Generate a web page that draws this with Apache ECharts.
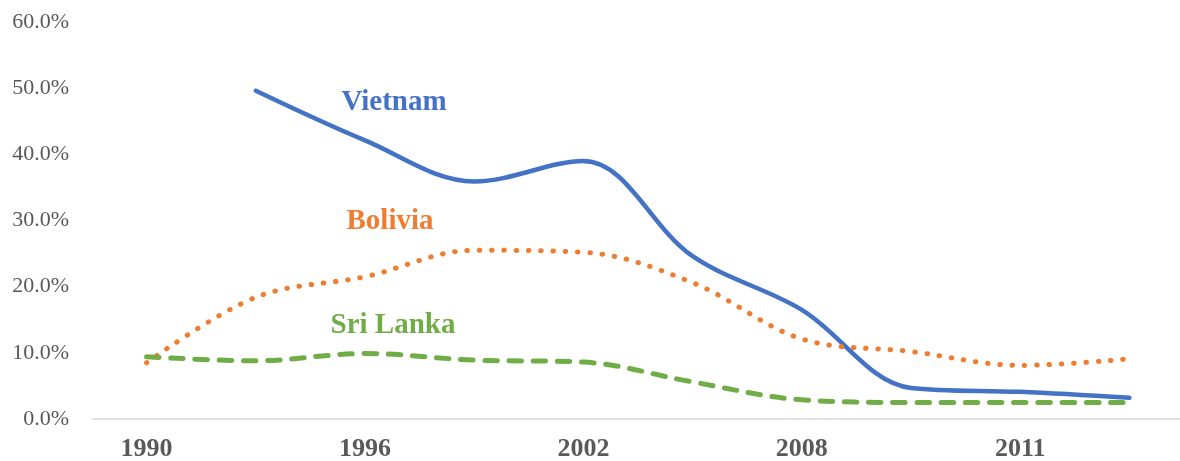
<!DOCTYPE html>
<html>
<head>
<meta charset="utf-8">
<script src="https://cdn.jsdelivr.net/npm/echarts@6/dist/echarts.min.js"></script>
<style>
  html, body { margin: 0; padding: 0; background: #fff; }
  #chart { width: 1180px; height: 461px; }
</style>
</head>
<body>
<div id="chart"></div>
<script>
// years on the axis (every other one is labelled)
var years = ['1990', '1993', '1996', '1999', '2002', '2005', '2008', '2010', '2011', '2013'];

// share of population, fractions
var vietnam  = [null, 0.496, 0.421, 0.359, 0.390, 0.246, 0.165, 0.047, 0.041, 0.032];
var bolivia  = [0.085, 0.184, 0.215, 0.255, 0.252, 0.206, 0.121, 0.102, 0.081, 0.091];
var sriLanka = [0.094, 0.088, 0.099, 0.089, 0.086, 0.056, 0.029, 0.025, 0.025, 0.025];

var yTicks = [0, 0.1, 0.2, 0.3, 0.4, 0.5, 0.6];

var serif = "'Liberation Serif', 'Times New Roman', serif";

function nameLabel(name, color, year, value, dx) {
  return {
    symbol: 'circle',
    symbolSize: 0,
    silent: true,
    label: {
      show: true,
      position: 'inside',
      offset: [dx, 0],
      formatter: name,
      color: color,
      fontFamily: serif,
      fontWeight: 'bold',
      fontSize: 29
    },
    data: [{ coord: [year, value] }]
  };
}

var chart = echarts.init(document.getElementById('chart'));

var option = {
  animation: false,
  backgroundColor: '#fff',
  grid: { left: 92, top: 22, bottom: 42, width: 1092, outerBoundsMode: 'none', containLabel: false },
  xAxis: {
    type: 'category',
    data: years,
    boundaryGap: true,
    axisLine: { lineStyle: { color: '#D9D9D9', width: 1.5 } },
    axisTick: { show: false },
    axisLabel: {
      interval: 1,
      margin: 17,
      color: '#595959',
      fontFamily: serif,
      fontWeight: 'bold',
      fontSize: 26
    }
  },
  yAxis: {
    type: 'value',
    min: yTicks[0],
    max: yTicks[yTicks.length - 1],
    interval: 0.1,
    axisLine: { show: false },
    axisTick: { show: false },
    splitLine: { show: false },
    axisLabel: {
      margin: 23,
      color: '#595959',
      fontFamily: serif,
      fontSize: 22,
      formatter: function (v) { return (v * 100).toFixed(1) + '%'; }
    }
  },
  series: [
    {
      name: 'Vietnam',
      type: 'line',
      data: vietnam,
      smooth: 0.35,
      symbol: 'none',
      lineStyle: { color: '#4472C4', width: 4.5, cap: 'round' },
      markPoint: nameLabel('Vietnam', '#4472C4', '1996', 0.478, 29)
    },
    {
      name: 'Bolivia',
      type: 'line',
      data: bolivia,
      smooth: 0.35,
      symbol: 'none',
      lineStyle: { color: '#ED7D31', width: 5, type: [0.5, 11.8], cap: 'round' },
      markPoint: nameLabel('Bolivia', '#ED7D31', '1996', 0.298, 25)
    },
    {
      name: 'Sri Lanka',
      type: 'line',
      data: sriLanka,
      smooth: 0.35,
      symbol: 'none',
      lineStyle: { color: '#70AD47', width: 5, type: [12.5, 11.7], cap: 'round' },
      markPoint: nameLabel('Sri Lanka', '#70AD47', '1996', 0.142, 28)
    }
  ]
};

chart.setOption(option);
</script>
</body>
</html>
